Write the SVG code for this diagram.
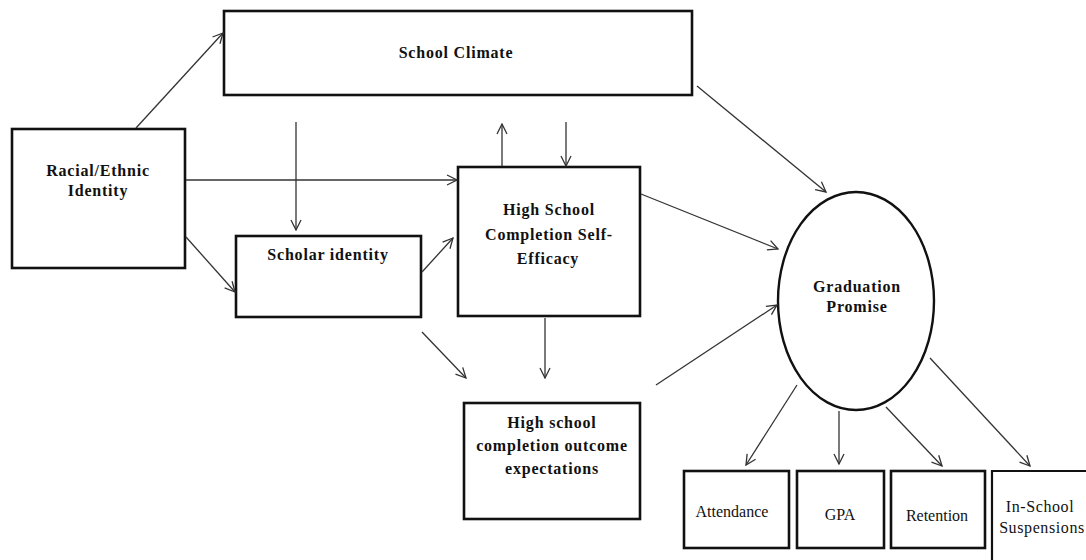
<svg xmlns="http://www.w3.org/2000/svg" width="1086" height="560" viewBox="0 0 1086 560">
<defs>
<marker id="arr" viewBox="0 0 12 12" refX="11" refY="6" markerWidth="12" markerHeight="12" markerUnits="userSpaceOnUse" orient="auto">
<path d="M1,1 L11,6 L1,11" fill="none" stroke="#333" stroke-width="1.3"/>
</marker>
<style>
.box{fill:#fff;stroke:#111;stroke-width:2.6}
.t{font-family:"Liberation Serif",serif;font-weight:bold;font-size:16px;letter-spacing:0.8px;fill:#111;text-anchor:middle}
.n{font-family:"Liberation Serif",serif;font-size:16px;fill:#111;text-anchor:middle}
.c line{stroke:#333;stroke-width:1.3;marker-end:url(#arr)}
</style>
</defs>
<rect width="1086" height="560" fill="#fff"/>
<g id="school-climate"><rect class="box" x="224" y="11" width="468" height="84"/><text class="t" x="456" y="58">School Climate</text></g>
<g id="racial-ethnic"><rect class="box" x="12" y="129" width="173" height="139"/><text class="t" x="98" y="176">Racial/Ethnic</text><text class="t" x="98" y="196">Identity</text></g>
<g id="scholar"><rect class="box" x="236" y="236" width="185" height="81"/><text class="t" x="328" y="260">Scholar identity</text></g>
<g id="hsc-self-efficacy"><rect class="box" x="458" y="167" width="182" height="149"/><text class="t" x="549" y="215">High School</text><text class="t" x="549" y="240">Completion Self-</text><text class="t" x="548" y="264">Efficacy</text></g>
<g id="hsc-outcome"><rect class="box" x="464" y="403" width="176" height="116"/><text class="t" x="552" y="428">High school</text><text class="t" x="552" y="451">completion outcome</text><text class="t" x="552" y="474">expectations</text></g>
<g id="graduation"><ellipse cx="856" cy="301" rx="78" ry="109" fill="#fff" stroke="#111" stroke-width="2.4"/><text class="t" x="857" y="292">Graduation</text><text class="t" x="857" y="312">Promise</text></g>
<g id="attendance"><rect class="box" x="684" y="471" width="105" height="77" stroke-width="2.2"/><text class="n" x="732" y="517">Attendance</text></g>
<g id="gpa"><rect class="box" x="797" y="471" width="87" height="77" stroke-width="2.2"/><text class="n" x="840" y="520">GPA</text></g>
<g id="retention"><rect class="box" x="891" y="471" width="94" height="77" stroke-width="2.2"/><text class="n" x="937" y="521">Retention</text></g>
<g id="in-school"><path d="M992,562 L992,471 L1088,471" fill="#fff" stroke="#111" stroke-width="2.2"/><text class="n" x="1040" y="512" style="letter-spacing:0.6px">In-School</text><text class="n" x="1042" y="533" style="letter-spacing:0.6px">Suspensions</text></g>
<g id="connectors" class="c">
<line x1="136" y1="128" x2="223" y2="33"/>
<line x1="186" y1="180" x2="457" y2="180"/>
<line x1="186" y1="237" x2="235" y2="292"/>
<line x1="296" y1="122" x2="296" y2="230"/>
<line x1="502" y1="166" x2="502" y2="124"/>
<line x1="566" y1="122" x2="566" y2="166"/>
<line x1="422" y1="272" x2="453" y2="238"/>
<line x1="422" y1="332" x2="466" y2="378"/>
<line x1="545" y1="318" x2="545" y2="378"/>
<line x1="641" y1="194" x2="778" y2="249"/>
<line x1="697" y1="86" x2="826" y2="192"/>
<line x1="656" y1="385" x2="777" y2="305"/>
<line x1="797" y1="385" x2="746" y2="465"/>
<line x1="839" y1="411" x2="839" y2="464"/>
<line x1="886" y1="407" x2="942" y2="466"/>
<line x1="930" y1="358" x2="1030" y2="466"/>
</g>
</svg>
